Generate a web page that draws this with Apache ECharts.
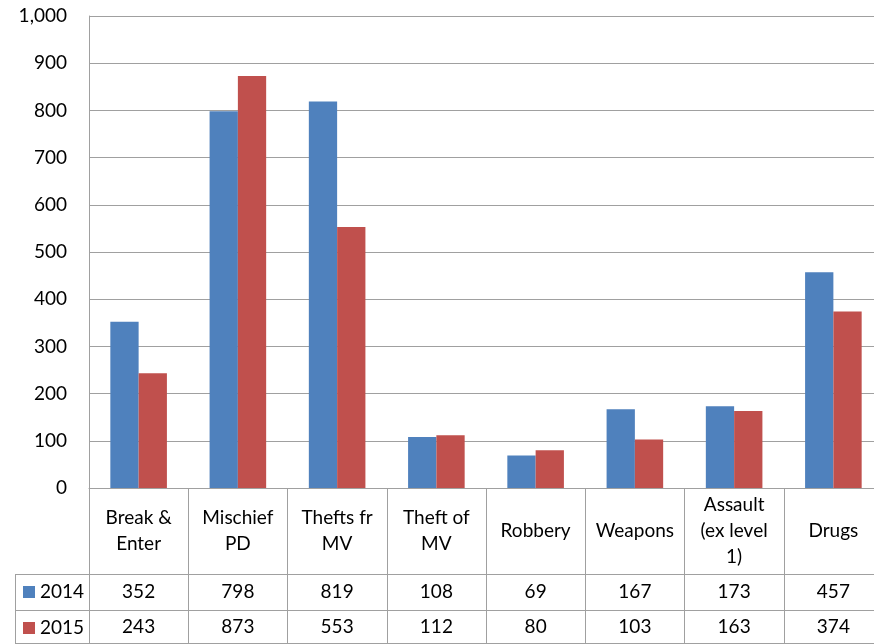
<!DOCTYPE html>
<html><head><meta charset="utf-8">
<script src="https://cdn.jsdelivr.net/npm/echarts@6/dist/echarts.min.js"></script>
<style>html,body{margin:0;padding:0;background:#fff}#c{width:874px;height:644px}</style>
</head><body><div id="c"></div>
<script>
const categories = ["Break &\nEnter", "Mischief\nPD", "Thefts fr\nMV", "Theft of\nMV", "Robbery", "Weapons", "Assault\n(ex level\n1)", "Drugs"];
const s2014 = [352, 798, 819, 108, 69, 167, 173, 457];
const s2015 = [243, 873, 553, 112, 80, 103, 163, 374];
const seriesNames = ["2014", "2015"];
const yTicks = {min: 0, max: 1000, interval: 100};

const FONT = "Lato";
const FS = 19;
const GRAY = "#a0a0a0";
const chart = echarts.init(document.getElementById('c'), null, {renderer: 'canvas'});
const GL = 89, GT = 16, GW = 794, GH = 472;
const H = 644;
const axisY = GT + GH;
const GB = H - axisY;
const rows = [s2014, s2015];
const rowCenters = [592, 627];

const option = {
  animation: false,
  textStyle: {fontFamily: FONT},
  grid: {left: GL, top: GT, width: GW, height: GH, containLabel: false, outerBoundsMode: 'none'},
  legend: {
    data: seriesNames, orient: 'vertical', left: 23, top: 582, padding: 0,
    icon: 'rect', itemWidth: 12, itemHeight: 12, itemGap: 16,
    textStyle: {fontFamily: FONT, fontSize: FS, color: '#000', lineHeight: 20},
    selectedMode: false
  },
  xAxis: [
    {
      type: 'category', data: categories, position: 'bottom',
      axisLine: {show: true, lineStyle: {color: GRAY, width: 1}},
      axisTick: {show: true, interval: 0, alignWithLabel: false, length: GB, lineStyle: {color: GRAY, width: 1}},
      axisLabel: {interval: 0, margin: 43, verticalAlign: 'middle', fontFamily: FONT, fontSize: FS, color: '#000', lineHeight: 26, align: 'center'}
    },
    ...rows.map((arr, k) => ({
      type: 'category', data: categories, position: 'bottom', gridIndex: 0,
      axisLine: {show: false}, axisTick: {show: false},
      axisLabel: {interval: 0, margin: rowCenters[k] - axisY, verticalAlign: 'middle', fontFamily: FONT, fontSize: FS, color: '#000',
        formatter: (v, i) => String(arr[i])}
    }))
  ],
  yAxis: {
    type: 'value', min: yTicks.min, max: yTicks.max, interval: yTicks.interval,
    axisLine: {show: true, lineStyle: {color: GRAY}},
    axisTick: {show: false},
    splitLine: {show: true, lineStyle: {color: GRAY, width: 1}},
    axisLabel: {margin: 22, fontFamily: FONT, fontSize: FS, color: '#000', formatter: v => v.toLocaleString('en-US')}
  },
  series: [
    {name: seriesNames[0], type: 'bar', data: s2014, xAxisIndex: 0, barGap: '0%', barCategoryGap: '43%', itemStyle: {color: '#4F81BD'}},
    {name: seriesNames[1], type: 'bar', data: s2015, xAxisIndex: 0, barGap: '0%', barCategoryGap: '43%', itemStyle: {color: '#C0504D'}}
  ],
  graphic: []
};
chart.setOption(option);

// table borders
const rightX = GL + GW;
const lineYs = [574, 610, 643];
const g = lineYs.map(y => ({type: 'line', shape: {x1: 15, y1: y + 0.5, x2: rightX, y2: y + 0.5}, style: {stroke: GRAY, lineWidth: 1}, z: 10}));
g.push({type: 'line', shape: {x1: 15.5, y1: 574, x2: 15.5, y2: 643}, style: {stroke: GRAY, lineWidth: 1}, z: 10});
chart.setOption({graphic: g});
</script></body></html>
